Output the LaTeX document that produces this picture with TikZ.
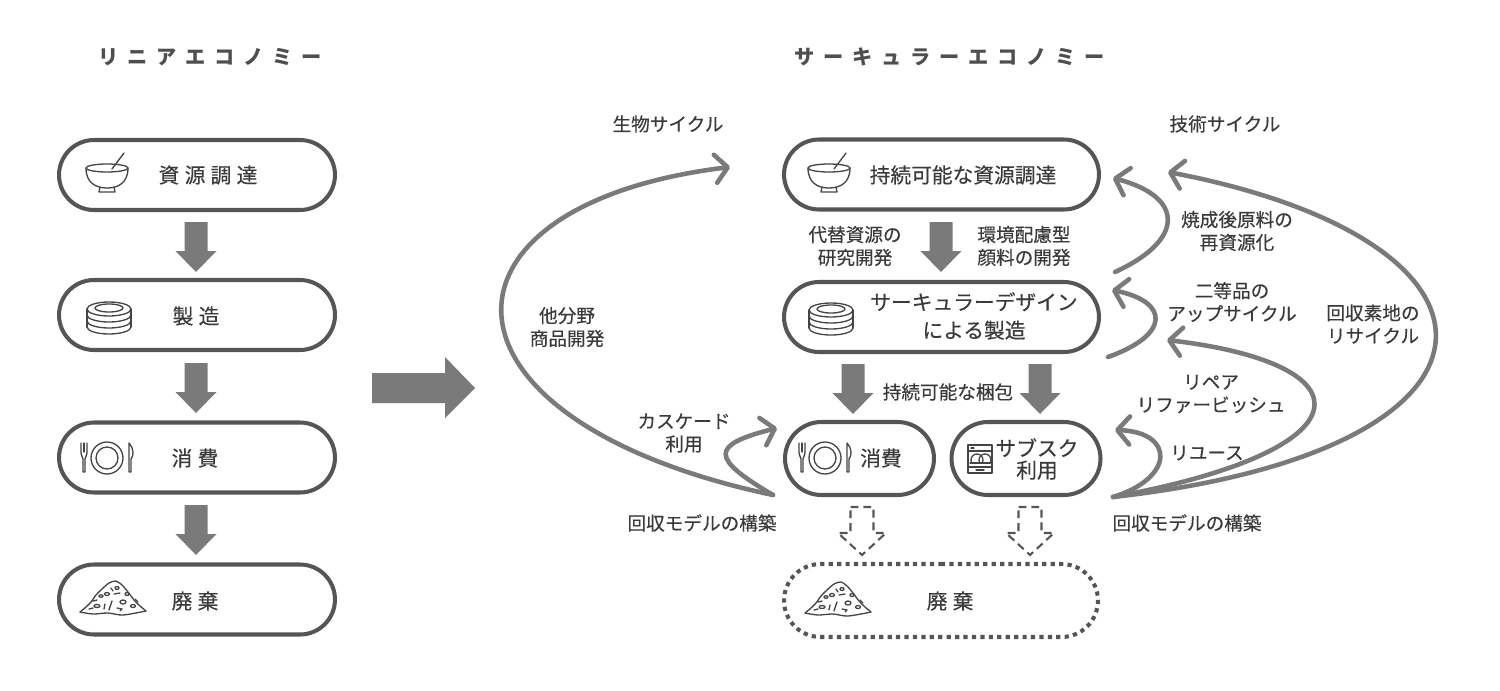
\documentclass[tikz,border=0pt]{standalone}
\usepackage{fontspec}
\setmainfont{Noto Sans CJK JP}
\newfontfamily\jpm{Noto Sans CJK JP}[FakeBold=0.35]
\usetikzlibrary{shapes.misc,arrows.meta}
\definecolor{boxc}{HTML}{555555}
\definecolor{arrc}{HTML}{7A7A7A}
\definecolor{txtc}{HTML}{3A3A3A}
\definecolor{icoc}{HTML}{444444}
\begin{document}
\begin{tikzpicture}[x=0.02cm,y=-0.02cm,
  box/.style={rounded rectangle, draw=boxc, line width=2.3pt, minimum height=1.4cm, inner sep=0pt},
  dotbox/.style={rounded rectangle, draw=boxc, line width=2.3pt, dash pattern=on 2.4pt off 2.4pt, minimum height=1.46cm, inner sep=0pt},
  lbl/.style={text=txtc, font=\jpm\fontsize{10.6pt}{13pt}\selectfont, align=center, inner sep=0pt},
  btxt/.style={text=txtc, font=\jpm\fontsize{11.8pt}{18pt}\selectfont, align=center, inner sep=0pt},
  ttl/.style={text=txtc!90!white, font=\fontsize{11.5pt}{14pt}\selectfont\bfseries, inner sep=0pt},
  cyc/.style={draw=arrc, line width=2.6pt, line cap=round, -{Straight Barb[length=7pt,width=16pt,round]}},
  icon/.style={draw=icoc, line width=0.75pt, line join=round, line cap=round},
  blockdown/.pic={\fill[arrc] (-11.5,0) -- (11.5,0) -- (11.5,29) -- (20.5,29) -- (0,50) -- (-20.5,29) -- (-11.5,29) -- cycle;},
  hollowdown/.pic={\draw[boxc, line width=1.2pt, dash pattern=on 4.5pt off 2.8pt] (-11.5,0) -- (11.5,0) -- (11.5,26) -- (24,26) -- (0,48) -- (-24,26) -- (-11.5,26) -- cycle;},
  bowl/.pic={
    \draw[icon] (0,-9) ellipse [x radius=21, y radius=4];
    \draw[icon] (-21,-9) .. controls (-21,6) and (-11,11) .. (0,11) .. controls (11,11) and (21,6) .. (21,-9);
    \draw[icon] (-7,10) -- (-8,15) -- (8,15) -- (7,10);
    \draw[icon] (5,-8) -- (17,-24);},
  plates/.pic={
    \draw[icon] (0,-8) ellipse [x radius=22, y radius=7];
    \draw[icon] (0,-9) ellipse [x radius=14, y radius=4];
    \foreach \k in {1,2,3}{\draw[icon] (-22,{-8+6*\k}) arc[start angle=180, end angle=0, x radius=22, y radius=7];}
    \draw[icon] (-22,-8) -- (-22,10); \draw[icon] (22,-8) -- (22,10);},
  cutlery/.pic={
    \draw[icon] (0,0) ellipse [x radius=16, y radius=16];
    \draw[icon] (0,0) ellipse [x radius=11, y radius=11];
    \draw[icon] (-26,-15) -- (-26,-6) .. controls (-26,-2) and (-24,-1) .. (-24,1) -- (-24,14) -- (-22,14) -- (-22,1) .. controls (-22,-1) and (-20,-2) .. (-20,-6) -- (-20,-15);
    \draw[icon] (-23,-15) -- (-23,-6);
    \draw[icon] (22,14) -- (22,-15) .. controls (27,-10) and (27,-2) .. (24,1) -- (24,14) -- cycle;},
  trash/.pic={
    \draw[icon] plot[smooth] coordinates {(-33,14) (-27,9) (-22,4) (-17,-3) (-11,-9) (-4,-15) (3,-17) (9,-13) (15,-6) (21,2) (27,8) (33,13)};
    \draw[icon] plot[smooth] coordinates {(-33,14) (-20,16) (-5,15) (10,17) (33,13)};
    \draw[icon] (-16,8) ellipse [x radius=3, y radius=1.5];
    \draw[icon] (-6,-4) ellipse [x radius=2.5, y radius=1.5];
    \draw[icon] (4,-10) ellipse [x radius=2, y radius=1.5];
    \draw[icon] (10,4) ellipse [x radius=3, y radius=2];
    \draw[icon] (20,8) ellipse [x radius=2.5, y radius=1.5];
    \draw[icon] (-12,-2) ellipse [x radius=2, y radius=1.2];
    \draw[icon] (14,-4) ellipse [x radius=2, y radius=1.5];
    \draw[icon] (-1,3) -- (-4,12);
    \draw[icon] (-9,11) -- (-8,6);
    \draw[icon] (1,-4) -- (7,-5);
    \draw[icon] (-24,11) -- (-20,10);
    \draw[icon] (4,10) -- (9,11) -- (7,13);
    \draw[icon] (-2,-10) -- (0,-7);
    \draw[icon] (-20,3) -- (-16,2);
    \draw[icon] (22,1) -- (25,4);},
  washer/.pic={
    \draw[icon] (-12,-14) rectangle (12,14);
    \draw[icon] (-12,-8) -- (12,-8);
    \draw[icon] (-9,-11) -- (-6,-11);
    \begin{scope}
      \clip (-12,-8) rectangle (12,4);
      \draw[icon] (-3,1) circle [radius=6];
      \draw[icon] (5,1) circle [radius=6];
    \end{scope}
    \draw[icon] (-10,4) -- (10,4);
    \draw[icon] (-12,8) -- (12,8);
    \draw[icon] (-4,11) -- (4,11);}
]
\useasboundingbox (0,0) rectangle (1500,690);

% titles
\node[ttl] (T1) at (210,57) {リ\kern5pt ニ\kern5pt ア\kern5pt エ\kern5pt コ\kern5pt ノ\kern5pt ミ\kern5pt ー};
\node[ttl] (T2) at (950,57) {サ\kern5pt ー\kern5pt キ\kern5pt ュ\kern5pt ラ\kern5pt ー\kern5pt エ\kern5pt コ\kern5pt ノ\kern5pt ミ\kern5pt ー};

% left column
\node[box, minimum width=5.52cm] (L1) at (197,175) {};
\node[box, minimum width=5.52cm] (L2) at (197,315) {};
\node[box, minimum width=5.52cm] (L3) at (197,457.5) {};
\node[box, minimum width=5.52cm] (L4) at (197,599.5) {};
\pic at (107,177) {bowl};
\pic at (109,317) {plates};
\pic at (107,458) {cutlery};
\pic at (113,598) {trash};
\node[btxt] (L1t) at (208,175) {資\kern3pt 源\kern3pt 調\kern3pt 達};
\node[btxt] (L2t) at (196,316) {製\kern3pt 造};
\node[btxt] (L3t) at (195,458) {消\kern3pt 費};
\node[btxt] (L4t) at (195,601) {廃\kern3pt 棄};
\pic at (196,222) {blockdown};
\pic at (196,363) {blockdown};
\pic at (196,505) {blockdown};

% big arrow
\fill[arrc] (372,373) -- (445,373) -- (445,357) -- (475,388) -- (445,418) -- (445,403) -- (372,403) -- cycle;

% right column
\node[box, minimum width=6.3cm] (RA) at (941.5,174.5) {};
\node[box, minimum width=6.3cm] (RB) at (941.5,317) {};
\node[box, minimum width=2.98cm, minimum height=1.46cm] (RC) at (859.5,458.5) {};
\node[box, minimum width=2.98cm, minimum height=1.46cm] (RD) at (1026,458.5) {};
\node[dotbox, minimum width=6.28cm] (RE) at (941,600.5) {};
\pic at (829,177) {bowl};
\pic at (831,318) {plates};
\pic at (825,458) {cutlery};
\pic at (980,459) {washer};
\pic at (838,599) {trash};
\node[btxt] (RAt) at (963,175) {持続可能な資源調達};
\node[btxt, font=\jpm\fontsize{11.8pt}{16pt}\selectfont] (RBt) at (974,316) {サーキュラーデザイン\\による製造};
\node[btxt] (RCt) at (881,458) {消費};
\node[btxt, font=\jpm\fontsize{11.8pt}{12.5pt}\selectfont] (RDt) at (1037,459) {サブスク\\利用};
\node[btxt] (REt) at (950,601) {廃\kern3pt 棄};

\pic at (941,222) {blockdown};
\pic at (853,364) {blockdown};
\pic at (1040,364) {blockdown};
\pic at (862,507) {hollowdown};
\pic at (1030,507) {hollowdown};

\node[lbl] (la1) at (855,246) {代替資源の\\研究開発};
\node[lbl] (la2) at (1024,246) {環境配慮型\\顔料の開発};
\node[lbl] (la3) at (948,392) {持続可能な梱包};

% biological cycle
\node[lbl] (bioT) at (668,124) {生物サイクル};
\node[lbl] (bio1) at (567,327) {他分野\\商品開発};
\node[lbl] (bio2) at (684,433) {カスケード\\利用};
\node[lbl] (bio3) at (702,523) {回収モデルの構築};
\coordinate (bS) at (773,495);
\coordinate (bE1) at (730,167);
\coordinate (bE2) at (777,428);
\draw[cyc] (bS) .. controls (419,420) and (419,205) .. (bE1);
\draw[cyc] (bS) .. controls (710,458) and (710,445) .. (bE2);

% technical cycle
\node[lbl] (tecT) at (1225,124) {技術サイクル};
\node[lbl] (tec1) at (1237,231) {焼成後原料の\\再資源化};
\node[lbl] (tec2) at (1232,302) {二等品の\\アップサイクル};
\node[lbl] (tec3) at (1373,324) {回収素地の\\リサイクル};
\node[lbl] (tec4) at (1211,394) {リペア\\リファービッシュ};
\node[lbl] (tec5) at (1207,453) {リユース};
\node[lbl] (tec6) at (1187,523) {回収モデルの構築};
\coordinate (tS) at (1113,497);
\coordinate (tE1) at (1168,172);
\coordinate (tE2) at (1167,340);
\coordinate (tE3) at (1115,430);
\coordinate (uS1) at (1115,272);
\coordinate (uE1) at (1113,178);
\coordinate (uS2) at (1108,357);
\coordinate (uE2) at (1112,290);
\draw[cyc] (tS) .. controls (1533,450) and (1533,242) .. (tE1);
\draw[cyc] (tS) .. controls (1371,450) and (1371,364) .. (tE2);
\draw[cyc] (tS) .. controls (1175,478) and (1175,432) .. (tE3);
\draw[cyc] (uS1) .. controls (1185,240) and (1185,197) .. (uE1);
\draw[cyc] (uS2) .. controls (1170,335) and (1170,302) .. (uE2);
\end{tikzpicture}
\end{document}
